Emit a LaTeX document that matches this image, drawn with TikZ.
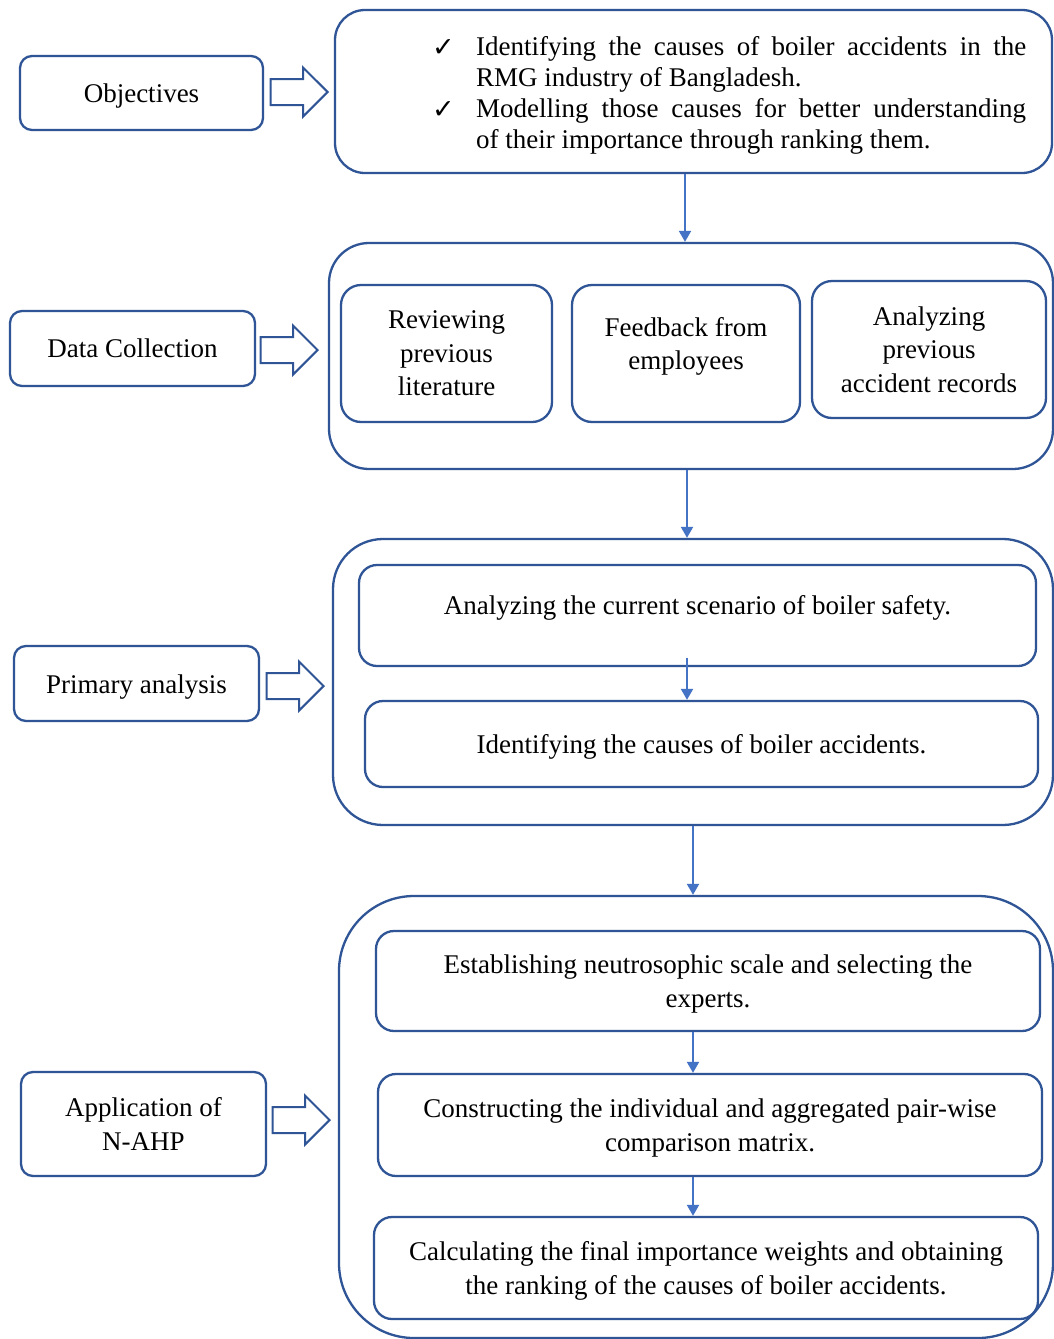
\documentclass[tikz,border=0pt]{standalone}
\usepackage{fontspec}
\setmainfont{Liberation Serif}
\newfontfamily\symfont{DejaVu Sans}
\usetikzlibrary{shapes.arrows,arrows.meta}
\definecolor{bdr}{RGB}{47,85,151}
\definecolor{conn}{RGB}{68,114,196}
\newcommand\dn{\rule{0pt}{25pt}}
\newcommand\chk{\makebox[44pt][l]{\raisebox{-1pt}{\symfont\fontsize{27}{31}\selectfont ✓}}}
\begin{document}
\begin{tikzpicture}[x=1pt,y=-1pt,
  every node/.style={font=\fontsize{27}{33.5}\selectfont},
  box/.style={draw=bdr, line width=2.3pt, rounded corners=12pt, align=center, inner sep=0pt},
  inner/.style={box, rounded corners=20pt},
  outer/.style={box, rounded corners=#1},
  blockarrow/.style={single arrow, draw=bdr, fill=white, line width=2pt, inner sep=0pt,
     text height=12pt, text depth=12pt, text width=0pt, anchor=tip,
     single arrow head extend=11.5pt, single arrow tip angle=90, minimum height=57pt},
  conn/.style={draw=conn, line width=2pt, -{Triangle[length=11pt,width=12pt]}}
]
\useasboundingbox (0,0) rectangle (1054,1339);
\fill[white] (0,0) rectangle (1054,1339);

% Row 1
\node[box, minimum width=243pt, minimum height=74pt] (obj) at (141.5,93) {\dn Objectives};
\node[outer=30pt, minimum width=717pt, minimum height=163pt] (top) at (693.5,91.5) {};
\node[anchor=north west, text width=594pt, align=justify, inner sep=0pt,
      font=\fontsize{27}{31}\selectfont] (toptext) at (432,36)
 {\hangindent=44pt\hangafter=1\chk Identifying the causes of boiler accidents in the RMG industry of Bangladesh.\par
  \hangindent=44pt\hangafter=1\chk Modelling those causes for better understanding\linebreak of their importance through ranking them.\par};
\node[blockarrow] (ar1) at (329,92) {};

% Row 2
\node[box, minimum width=245pt, minimum height=75pt] (dc) at (132.5,348.5) {Data Collection};
\node[outer=40pt, minimum width=724pt, minimum height=226pt] (dcout) at (691,356) {};
\node[inner, minimum width=211pt, minimum height=137pt] (rev) at (446.5,353.5) {Reviewing\\previous\\literature};
\node[inner, minimum width=228pt, minimum height=137pt] (fb) at (686,353.5) {};
\node (fbt) at ([yshift=7pt]fb.center) [align=center] {Feedback from\\employees};
\node[inner, minimum width=234pt, minimum height=137pt] (an) at (929,349.5) {Analyzing\\previous\\accident records};
\node[blockarrow] (ar2) at (319,350) {};

% Row 3
\node[box, minimum width=245pt, minimum height=75pt] (pa) at (136.5,683.5) {\dn Primary analysis};
\node[outer=50pt, minimum width=720pt, minimum height=286pt] (paout) at (693,682) {};
\node[inner, rounded corners=18pt, minimum width=677pt, minimum height=101pt] (p1) at (697.5,615.5) {};
\node (p1t) at ([yshift=8pt]p1.center) {Analyzing the current scenario of boiler safety.};
\node[inner, rounded corners=18pt, minimum width=673pt, minimum height=86pt] (p2) at (701.5,744) {\dn Identifying the causes of boiler accidents.};
\node[blockarrow] (ar3) at (325,686) {};

% Row 4
\node[box, minimum width=245pt, minimum height=104pt] (app) at (143.5,1124) {Application of\\N-AHP};
\node[outer=75pt, minimum width=714pt, minimum height=442pt] (appout) at (696,1117) {};
\node[inner, rounded corners=18pt, minimum width=664pt, minimum height=100pt] (e1) at (708,981) {\dn Establishing neutrosophic scale and selecting the\\experts.};
\node[inner, rounded corners=18pt, minimum width=664pt, minimum height=102pt] (e2) at (710,1125) {\dn Constructing the individual and aggregated pair-wise\\comparison matrix.};
\node[inner, rounded corners=18pt, minimum width=664pt, minimum height=102pt] (e3) at (706,1268) {\dn Calculating the final importance weights and obtaining\\the ranking of the causes of boiler accidents.};
\node[blockarrow] (ar4) at (331,1120) {};

% connectors
\draw[conn] (top.south -| 685,0) -- (dcout.north -| 685,0);
\draw[conn] (dcout.south -| 687,0) -- (paout.north -| 687,0);
\draw[conn] ([yshift=9pt]p1.south -| 687,0) -- (p2.north -| 687,0);
\draw[conn] (paout.south -| 693,0) -- (appout.north -| 693,0);
\draw[conn] (e1.south -| 693,0) -- (e2.north -| 693,0);
\draw[conn] (e2.south -| 693,0) -- (e3.north -| 693,0);
\end{tikzpicture}
\end{document}
